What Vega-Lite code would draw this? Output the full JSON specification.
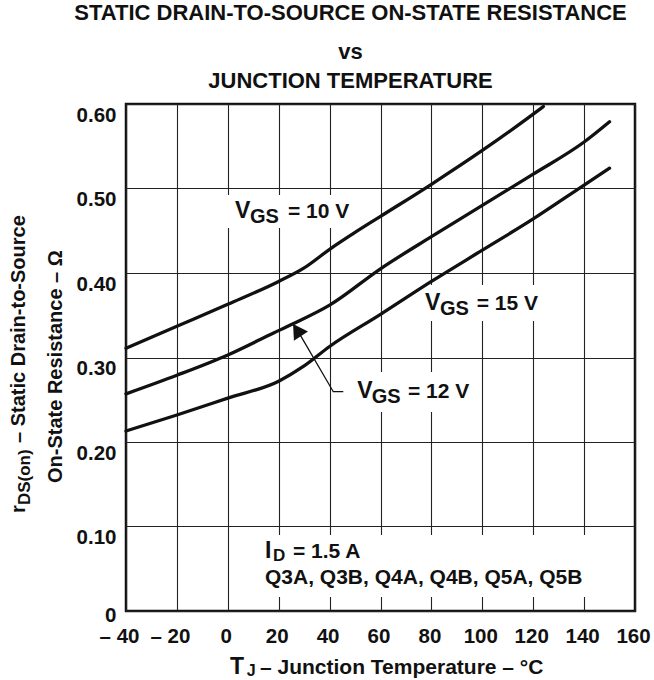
{
  "$schema": "https://vega.github.io/schema/vega-lite/v6.json",
  "width": 509,
  "height": 507,
  "autosize": {"type": "none"},
  "padding": {"left": 126, "top": 104, "right": 19, "bottom": 69},
  "background": "white",
  "config": {"view": {"stroke": "#111", "strokeWidth": 2.5}, "font": "Liberation Sans"},
  "title": {
    "text": "STATIC DRAIN-TO-SOURCE ON-STATE RESISTANCE",
    "subtitle": ["vs", "JUNCTION TEMPERATURE"],
    "font": "Liberation Sans",
    "fontSize": 22,
    "fontWeight": "bold",
    "color": "#111",
    "subtitleFont": "Liberation Sans",
    "subtitleFontSize": 22,
    "subtitleFontWeight": "bold",
    "subtitleColor": "#111",
    "subtitleLineHeight": 29,
    "subtitlePadding": 17,
    "anchor": "middle",
    "dx": -30,
    "offset": 11
  },
  "datasets": {
    "curves": [
      {"s": "10", "x": -40, "y": 0.311}, {"s": "10", "x": -20, "y": 0.337}, {"s": "10", "x": 0, "y": 0.363},
      {"s": "10", "x": 20, "y": 0.390}, {"s": "10", "x": 30, "y": 0.406}, {"s": "10", "x": 40, "y": 0.428},
      {"s": "10", "x": 50, "y": 0.448}, {"s": "10", "x": 60, "y": 0.467}, {"s": "10", "x": 80, "y": 0.505},
      {"s": "10", "x": 100, "y": 0.545}, {"s": "10", "x": 120, "y": 0.588}, {"s": "10", "x": 124, "y": 0.597},
      {"s": "12", "x": -40, "y": 0.257}, {"s": "12", "x": -20, "y": 0.279}, {"s": "12", "x": 0, "y": 0.303},
      {"s": "12", "x": 18, "y": 0.329}, {"s": "12", "x": 25, "y": 0.339}, {"s": "12", "x": 40, "y": 0.362},
      {"s": "12", "x": 60, "y": 0.405}, {"s": "12", "x": 80, "y": 0.443}, {"s": "12", "x": 100, "y": 0.480},
      {"s": "12", "x": 120, "y": 0.517}, {"s": "12", "x": 140, "y": 0.555}, {"s": "12", "x": 150, "y": 0.579},
      {"s": "15", "x": -40, "y": 0.213}, {"s": "15", "x": -20, "y": 0.232}, {"s": "15", "x": 0, "y": 0.252},
      {"s": "15", "x": 20, "y": 0.272}, {"s": "15", "x": 30, "y": 0.290}, {"s": "15", "x": 40, "y": 0.313},
      {"s": "15", "x": 60, "y": 0.351}, {"s": "15", "x": 80, "y": 0.390}, {"s": "15", "x": 100, "y": 0.427},
      {"s": "15", "x": 120, "y": 0.464}, {"s": "15", "x": 140, "y": 0.504}, {"s": "15", "x": 150, "y": 0.524}
    ],
    "masks": [
      {"x": -0.7, "x2": 48.8, "y": 0.4533, "y2": 0.4923},
      {"x": 75.5, "x2": 124.6, "y": 0.3432, "y2": 0.3858},
      {"x": 48.0, "x2": 97.1, "y": 0.2355, "y2": 0.2828},
      {"x": 13.4, "x2": 143.1, "y": 0.0166, "y2": 0.0899}
    ],
    "arrow": [
      {"x": 28.25, "y": 0.3276}, {"x": 41.45, "y": 0.2595}, {"x": 45.38, "y": 0.2595}
    ],
    "arrowhead": [
      {"x": 27.19, "y": 0.3325}
    ],
    "labels": [
      {"g": "v10", "part": "big", "text": "V", "x": 2.83, "y": 0.4651},
      {"g": "v10", "part": "sub", "text": "GS", "x": 8.72, "y": 0.4651},
      {"g": "v10", "part": "text", "text": "= 10 V", "x": 23.65, "y": 0.4651},
      {"g": "v15", "part": "big", "text": "V", "x": 77.49, "y": 0.3562},
      {"g": "v15", "part": "sub", "text": "GS", "x": 83.38, "y": 0.3562},
      {"g": "v15", "part": "text", "text": "= 15 V", "x": 97.8, "y": 0.3562},
      {"g": "v12", "part": "big", "text": "V", "x": 50.89, "y": 0.2517},
      {"g": "v12", "part": "sub", "text": "GS", "x": 56.54, "y": 0.2517},
      {"g": "v12", "part": "text", "text": "= 12 V", "x": 70.81, "y": 0.2517},
      {"g": "id", "part": "big", "text": "I", "x": 14.62, "y": 0.0624},
      {"g": "id", "part": "sub", "text": "D", "x": 17.76, "y": 0.0624},
      {"g": "id", "part": "text", "text": "= 1.5 A", "x": 25.62, "y": 0.0624},
      {"g": "id", "part": "text", "text": "Q3A, Q3B, Q4A, Q4B, Q5A, Q5B", "x": 14.62, "y": 0.0320},
      {"g": "xt", "part": "big", "text": "T", "x": 0.87, "y": -0.0746},
      {"g": "xt", "part": "sub", "text": "J", "x": 7.43, "y": -0.0746},
      {"g": "xt", "part": "text", "text": "– Junction Temperature – °C", "x": 12.65, "y": -0.0746},
      {"g": "yt", "part": "text", "text": "r", "x": -79.69, "y": 0.116},
      {"g": "yt", "part": "sub", "text": "DS(on)", "x": -79.69, "y": 0.1254},
      {"g": "yt", "part": "text", "text": "– Static Drain-to-Source", "x": -79.69, "y": 0.1988},
      {"g": "yt", "part": "text", "text": "On-State Resistance – Ω", "x": -65.15, "y": 0.1515}
    ]
  },
  "encoding": {
    "x": {
      "field": "x", "type": "quantitative",
      "scale": {"domain": [-40, 160], "nice": false, "zero": false},
      "axis": {
        "title": null, "values": [-40, -20, 0, 20, 40, 60, 80, 100, 120, 140, 160],
        "grid": true, "gridColor": "#222", "gridWidth": 1.1, "ticks": false, "domain": false,
        "labelFont": "Liberation Sans", "labelFontWeight": "bold", "labelFontSize": 20.5, "labelColor": "#111",
        "labelPadding": 15, "labelFlush": false, "labelOverlap": false, "labelBound": false,
        "labelOffset": {"condition": {"test": "datum.value < 0", "value": -7}, "value": -2},
        "labelExpr": "datum.value < 0 ? '– ' + abs(datum.value) : format(datum.value, 'd')"
      }
    },
    "y": {
      "field": "y", "type": "quantitative",
      "scale": {"domain": [0, 0.6], "nice": false, "zero": false},
      "axis": {
        "title": null, "values": [0, 0.1, 0.2, 0.3, 0.4, 0.5, 0.6],
        "grid": true, "gridColor": "#222", "gridWidth": 1.1, "ticks": false, "domain": false,
        "labelFont": "Liberation Sans", "labelFontWeight": "bold", "labelFontSize": 20.5, "labelColor": "#111",
        "labelPadding": 10, "labelBaseline": "middle", "labelOverlap": false, "labelFlush": false, "labelBound": false,
        "labelOffset": {"condition": {"test": "datum.value == 0", "value": 4}, "value": 11},
        "labelExpr": "datum.value == 0 ? '0' : format(datum.value, '.2f')"
      }
    }
  },
  "layer": [
    {
      "data": {"name": "masks"},
      "mark": {"type": "rect", "fill": "white", "strokeWidth": 0},
      "encoding": {"x2": {"field": "x2"}, "y2": {"field": "y2"}}
    },
    {
      "data": {"name": "curves"},
      "mark": {"type": "line", "color": "#111", "strokeWidth": 3.3, "strokeCap": "round", "strokeJoin": "round", "interpolate": "monotone"},
      "encoding": {"detail": {"field": "s"}}
    },
    {
      "data": {"name": "arrow"},
      "mark": {"type": "line", "color": "#111", "strokeWidth": 1.3},
      "encoding": {}
    },
    {
      "data": {"name": "arrowhead"},
      "mark": {"type": "point", "shape": "triangle-up", "filled": true, "size": 280, "angle": 327, "color": "#111", "opacity": 1, "strokeWidth": 0},
      "encoding": {}
    },
    {
      "data": {"name": "labels"},
      "transform": [{"filter": "datum.g != 'yt' && datum.part == 'big'"}],
      "mark": {"type": "text", "align": "left", "baseline": "alphabetic", "fontWeight": "bold", "color": "#111", "font": "Liberation Sans", "fontSize": 23},
      "encoding": {"text": {"field": "text"}}
    },
    {
      "data": {"name": "labels"},
      "transform": [{"filter": "datum.g != 'yt' && datum.part == 'text'"}],
      "mark": {"type": "text", "align": "left", "baseline": "alphabetic", "fontWeight": "bold", "color": "#111", "font": "Liberation Sans", "fontSize": 21},
      "encoding": {"text": {"field": "text"}}
    },
    {
      "data": {"name": "labels"},
      "transform": [{"filter": "(datum.g == 'v10' || datum.g == 'v12' || datum.g == 'v15') && datum.part == 'sub'"}],
      "mark": {"type": "text", "align": "left", "baseline": "alphabetic", "fontWeight": "bold", "color": "#111", "font": "Liberation Sans", "fontSize": 20, "dy": 5},
      "encoding": {"text": {"field": "text"}}
    },
    {
      "data": {"name": "labels"},
      "transform": [{"filter": "datum.g == 'id' && datum.part == 'sub'"}],
      "mark": {"type": "text", "align": "left", "baseline": "alphabetic", "fontWeight": "bold", "color": "#111", "font": "Liberation Sans", "fontSize": 17, "dy": 3},
      "encoding": {"text": {"field": "text"}}
    },
    {
      "data": {"name": "labels"},
      "transform": [{"filter": "datum.g == 'xt' && datum.part == 'sub'"}],
      "mark": {"type": "text", "align": "left", "baseline": "alphabetic", "fontWeight": "bold", "color": "#111", "font": "Liberation Sans", "fontSize": 16, "dy": 2},
      "encoding": {"text": {"field": "text"}}
    },
    {
      "data": {"name": "labels"},
      "transform": [{"filter": "datum.g == 'yt' && datum.part != 'sub'"}],
      "mark": {"type": "text", "align": "left", "baseline": "alphabetic", "fontWeight": "bold", "color": "#111", "font": "Liberation Sans", "fontSize": 20, "angle": 270},
      "encoding": {"text": {"field": "text"}}
    },
    {
      "data": {"name": "labels"},
      "transform": [{"filter": "datum.g == 'yt' && datum.part == 'sub'"}],
      "mark": {"type": "text", "align": "left", "baseline": "alphabetic", "fontWeight": "bold", "color": "#111", "font": "Liberation Sans", "fontSize": 17, "angle": 270, "dy": 5},
      "encoding": {"text": {"field": "text"}}
    }
  ]
}
